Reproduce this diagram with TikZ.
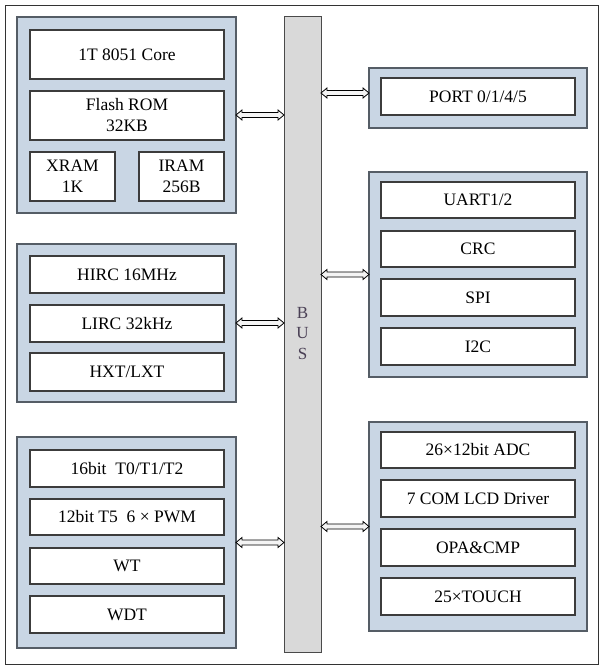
\documentclass[tikz,border=0pt]{standalone}
\usepackage{fontspec}
\setmainfont{Liberation Serif}
\usetikzlibrary{calc}
\definecolor{blkfill}{HTML}{C9D6E4}
\definecolor{blkdraw}{HTML}{555D66}
\definecolor{celldraw}{HTML}{3C3C3C}
\definecolor{busfill}{HTML}{D9D9D9}
\definecolor{busdraw}{HTML}{4A4A4A}
\definecolor{bustext}{HTML}{4A4055}
\definecolor{arrowfill}{HTML}{F4F4F4}
\newcommand{\boxat}[7]{\node[#1, anchor=north west, minimum width={#4-#2}, minimum height={#5-#3}] (#6) at (#2,#3) {#7};}
\newcommand{\dblarrow}[2]{%
  \draw[arr] (#1) -- ($(#1)+(6,-5)$) -- ($(#1)+(6,-2.5)$) -- ($(#2)+(-6,-2.5)$) -- ($(#2)+(-6,-5)$) -- (#2)
    -- ($(#2)+(-6,5)$) -- ($(#2)+(-6,2.5)$) -- ($(#1)+(6,2.5)$) -- ($(#1)+(6,5)$) -- cycle;}
\begin{document}
\begin{tikzpicture}[x=1pt,y=-1pt,
  every node/.style={inner sep=0pt, outer sep=0pt, font=\fontsize{17.5}{21}\selectfont, align=center},
  frame/.style={draw=black!80, line width=0.9pt, fill=white},
  blk/.style={draw=blkdraw, fill=blkfill, line width=1.6pt},
  cell/.style={draw=celldraw, fill=white, line width=1.2pt},
  busbar/.style={draw=busdraw, fill=busfill, line width=1pt},
  arr/.style={draw=black, fill=arrowfill, line width=0.8pt, line join=miter}]
\useasboundingbox (0,0) rectangle (604,669);
\boxat{frame}{5}{5}{598}{664}{frame}{}
% bus
\boxat{busbar}{284}{17}{321}{652}{bus}{}
\node[text=bustext, font=\fontsize{17}{20.5}\selectfont] (buslabel) at (302.5,333.5) {B\\U\\S};
% left block 1
\boxat{blk}{17}{17}{236}{213}{l1}{}
\boxat{cell}{30}{30}{224}{79}{core}{1T 8051 Core}
\boxat{cell}{30}{91}{224}{140}{flash}{Flash ROM\\32KB}
\boxat{cell}{30}{152}{115}{201}{xram}{XRAM\\1K}
\boxat{cell}{139}{152}{224}{201}{iram}{IRAM\\256B}
% left block 2
\boxat{blk}{17}{244}{236}{402}{l2}{}
\boxat{cell}{30}{256}{224}{293}{hirc}{HIRC 16MHz}
\boxat{cell}{30}{305}{224}{342}{lirc}{LIRC 32kHz}
\boxat{cell}{30}{353}{224}{391}{hxt}{HXT/LXT}
% left block 3
\boxat{blk}{17}{437}{236}{648}{l3}{}
\boxat{cell}{30}{450}{224}{487}{tmr}{16bit~~T0/T1/T2}
\boxat{cell}{30}{499}{224}{535}{pwm}{12bit T5~~6 × PWM}
\boxat{cell}{30}{548}{224}{584}{wt}{WT}
\boxat{cell}{30}{596}{224}{633}{wdt}{WDT}
% right block 1
\boxat{blk}{369}{68}{587}{128}{r1}{}
\boxat{cell}{381}{78}{575}{115}{port}{PORT 0/1/4/5}
% right block 2
\boxat{blk}{369}{172}{587}{377}{r2}{}
\boxat{cell}{381}{182}{575}{218}{uart}{UART1/2}
\boxat{cell}{381}{231}{575}{267}{crc}{CRC}
\boxat{cell}{381}{279}{575}{316}{spi}{SPI}
\boxat{cell}{381}{328}{575}{365}{iic}{I2C}
% right block 3
\boxat{blk}{369}{422}{587}{631}{r3}{}
\boxat{cell}{381}{432}{575}{468}{adc}{26×12bit ADC}
\boxat{cell}{381}{480}{575}{517}{lcd}{7 COM LCD Driver}
\boxat{cell}{381}{529}{575}{566}{opa}{OPA\&CMP}
\boxat{cell}{381}{578}{575}{615}{touch}{25×TOUCH}
% connector end points
\coordinate (a1) at (l1.east);
\coordinate (b1) at (bus.west |- a1);
\coordinate (a2) at (l2.east);
\coordinate (b2) at (bus.west |- a2);
\coordinate (a3) at (l3.east);
\coordinate (b3) at (bus.west |- a3);
\coordinate (c1) at ($(r1.west)+(0,-5)$);
\coordinate (d1) at (bus.east |- c1);
\coordinate (c2) at (r2.west);
\coordinate (d2) at (bus.east |- c2);
\coordinate (c3) at (r3.west);
\coordinate (d3) at (bus.east |- c3);
\dblarrow{a1}{b1}
\dblarrow{a2}{b2}
\dblarrow{a3}{b3}
\dblarrow{d1}{c1}
\dblarrow{d2}{c2}
\dblarrow{d3}{c3}
\end{tikzpicture}
\end{document}
